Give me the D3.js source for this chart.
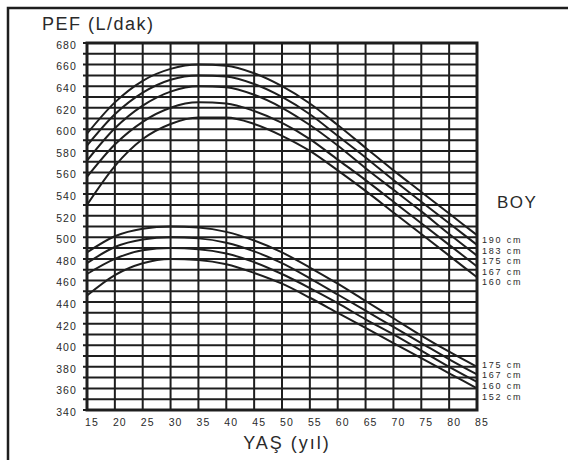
<!DOCTYPE html>
<html><head><meta charset="utf-8">
<script src="https://cdn.jsdelivr.net/npm/d3@7"></script>
<style>body{margin:0;background:#fff}svg{display:block}text{font-family:"Liberation Sans",Arial,sans-serif;fill:#2a2a2a}</style>
</head><body>
<svg id="c" width="568" height="460"></svg>
<script>
const ages = [15,20,25,30,35,40,45,50,55,60,65,70,75,80,85];
const menLabels = ["190 cm","183 cm","175 cm","167 cm","160 cm"];
const men190 = [596,625,645,656,660,659,652,640,624,604,583,562,542,522,502];
const men183 = [585,614,634,646,650,649,642,630,614,594,574,553,533,513,493];
const men175 = [571,601,622,635,640,639,632,620,604,585,564,544,524,503,483];
const men167 = [556,586,607,620,625,624,617,606,591,572,553,533,513,493,473];
const men160 = [530,566,591,605,611,611,605,594,580,562,543,523,503,483,463];
const womenLabels = ["175 cm","167 cm","160 cm","152 cm"];
const women175 = [486,501,508,510,509,505,497,486,472,457,441,425,409,394,380];
const women167 = [476,491,498,500,499,495,487,476,462,447,432,417,402,387,373];
const women160 = [466,480,488,490,489,485,477,466,453,439,424,410,395,380,366];
const women152 = [446,465,476,480,479,475,467,457,444,430,416,402,388,374,360];
const xTicks = [15,20,25,30,35,40,45,50,55,60,65,70,75,80,85];
const yTicks = [340,360,380,400,420,440,460,480,500,520,540,560,580,600,620,640,660,680];

const svg = d3.select("#c");
const x = d3.scaleLinear().domain([15,85]).range([87,477]);
const y = d3.scaleLinear().domain([340,680]).range([410,43]);
const ink = "#1e1e1e";
const txt = "#2a2a2a";
const fam = "'Liberation Sans',Arial,sans-serif";

// outer frame
svg.append("rect").attr("x",8).attr("y",8).attr("width",580).attr("height",470)
  .attr("fill","none").attr("stroke",ink).attr("stroke-width",2.5);

// horizontal grid every 10
const hLines = d3.range(340,681,10);
svg.append("g").selectAll("line").data(hLines).join("line")
  .attr("x1",x(15)-4).attr("x2",x(85)).attr("y1",d=>y(d)).attr("y2",d=>y(d))
  .attr("stroke",ink).attr("stroke-width",2);
// vertical grid every 5
svg.append("g").selectAll("line").data(xTicks).join("line")
  .attr("x1",d=>x(d)).attr("x2",d=>x(d)).attr("y1",y(680)).attr("y2",y(340))
  .attr("stroke",ink).attr("stroke-width",2);
// plot frame
svg.append("rect").attr("x",x(15)).attr("y",y(680)).attr("width",x(85)-x(15)).attr("height",y(340)-y(680))
  .attr("fill","none").attr("stroke",ink).attr("stroke-width",3);

// axes labels
const yAxis = d3.axisLeft(y).tickValues(yTicks).tickSize(0).tickPadding(10);
const gy = svg.append("g").attr("transform",`translate(${x(15)},2)`).call(yAxis);
gy.select(".domain").remove();
gy.selectAll("text").style("font-size","10.5px").style("letter-spacing","1.1px").style("font-family",fam).attr("fill",txt);
const xAxis = d3.axisBottom(x).tickValues(xTicks).tickSize(0).tickPadding(9);
const gx = svg.append("g").attr("transform",`translate(4.5,${y(340)})`).call(xAxis);
gx.select(".domain").remove();
gx.selectAll("text").style("font-size","10.5px").style("letter-spacing","1.1px").style("font-family",fam).attr("fill",txt);

// curves
const line = d3.line().x((d,i)=>x(ages[i])).y(d=>y(d)).curve(d3.curveMonotoneX);
const series = [men190,men183,men175,men167,men160,women175,women167,women160,women152];
svg.append("g").selectAll("path").data(series).join("path")
  .attr("d",line).attr("fill","none").attr("stroke",ink).attr("stroke-width",2);

// series labels
const menY = [240,250.4,260.8,271.2,281.6];
svg.append("g").selectAll("text").data(menLabels).join("text")
  .attr("x",482).attr("y",(d,i)=>menY[i]+3.3).text(d=>d)
  .style("font-size","9px").style("letter-spacing","1.8px");
const womenY = [364.5,375,385.5,396.5];
svg.append("g").selectAll("text").data(womenLabels).join("text")
  .attr("x",482).attr("y",(d,i)=>womenY[i]+3.3).text(d=>d)
  .style("font-size","9px").style("letter-spacing","1.8px");

svg.append("text").attr("x",42).attr("y",30).text("PEF (L/dak)").style("font-size","18px").style("letter-spacing","1.5px");
svg.append("text").attr("x",287).attr("y",449).attr("text-anchor","middle").text("YAŞ (yıl)").style("font-size","18px").style("letter-spacing","2px");
svg.append("text").attr("x",497).attr("y",208).text("BOY").style("font-size","17px").style("letter-spacing","1.5px");
</script>
</body></html>
